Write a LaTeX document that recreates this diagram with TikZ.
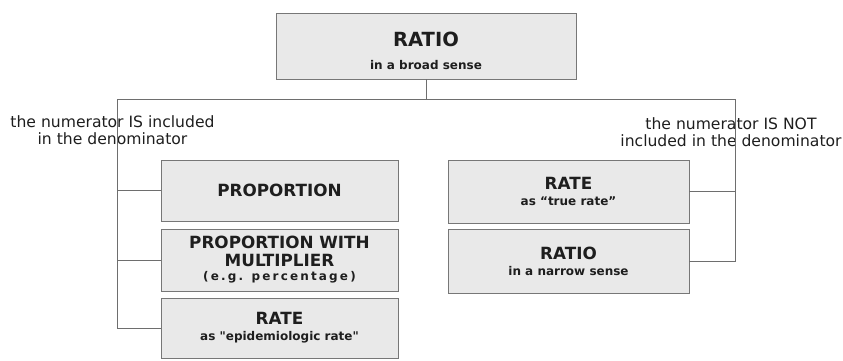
\documentclass[tikz,border=0pt]{standalone}
\usepackage{fontspec}
\setmainfont{DejaVu Sans}
\usetikzlibrary{positioning,calc}
\definecolor{boxfill}{HTML}{E9E9E9}
\definecolor{boxline}{HTML}{777777}
\definecolor{wire}{HTML}{6E6E6E}
\definecolor{ink}{HTML}{1E1E1E}

\newcommand{\headfont}{\fontsize{16.8}{19}\selectfont\bfseries}
\newcommand{\subfont}{\fontsize{12}{13}\selectfont\bfseries}

\begin{document}
\begin{tikzpicture}[x=1pt, y=-1pt,
    every node/.style={text=ink},
    element/.style={rectangle, draw=boxline, fill=boxfill, line width=0.9pt,
        inner sep=2pt, align=center, font=\headfont},
    wiring/.style={draw=wire, line width=0.9pt},
    note/.style={font=\fontsize{15.6}{17}\selectfont, align=center},
]
\useasboundingbox (0,0) rectangle (843,360);

% Top box
\node[element, minimum width=300pt, minimum height=66pt,
    font=\fontsize{19.5}{22}\selectfont\bfseries] (ratiobroad) at (426,46)
    {\rule{0pt}{24pt}RATIO\\[1pt]{\subfont in a broad sense}};

% Left branch boxes
\node[element, minimum width=237pt, minimum height=61pt] (prop) at (279.5,190.5)
    {PROPORTION};
\node[element, minimum width=237pt, minimum height=62pt] (propmult) at (279.5,260)
    {PROPORTION WITH\\[-1pt]MULTIPLIER\\[-5pt]{\subfont\addfontfeature{LetterSpace=18}(e.g. percentage)}};
\node[element, minimum width=237pt, minimum height=60pt] (rateepi) at (279.5,328)
    {RATE\\[-3pt]{\subfont as \textquotedbl epidemiologic rate\textquotedbl}};

% Right branch boxes
\node[element, minimum width=241pt, minimum height=63pt] (ratetrue) at (568.5,191.5)
    {RATE\\[-3pt]{\subfont as ``true rate''}};
\node[element, minimum width=241pt, minimum height=64pt] (rationarrow) at (568.5,261)
    {RATIO\\[-3pt]{\subfont in a narrow sense}};

% Branch labels
\node[note] (incl) at (112.5,130)
    {the numerator IS included\\in the denominator};
\node[note] (notincl) at (731,132)
    {the numerator IS NOT\\included in the denominator};

% Wiring
\coordinate (lcorner) at (117,99);
\coordinate (rcorner) at (735,99);
\draw[wiring] (ratiobroad.south) -- (ratiobroad.south |- lcorner);
\draw[wiring] (lcorner) -- (rcorner);
\draw[wiring] (lcorner) -- (lcorner |- rateepi.west) -- (rateepi.west);
\draw[wiring] (lcorner |- prop.west) -- (prop.west);
\draw[wiring] (lcorner |- propmult.west) -- (propmult.west);
\draw[wiring] (rcorner) -- (rcorner |- rationarrow.east) -- (rationarrow.east);
\draw[wiring] (rcorner |- ratetrue.east) -- (ratetrue.east);

\end{tikzpicture}
\end{document}
